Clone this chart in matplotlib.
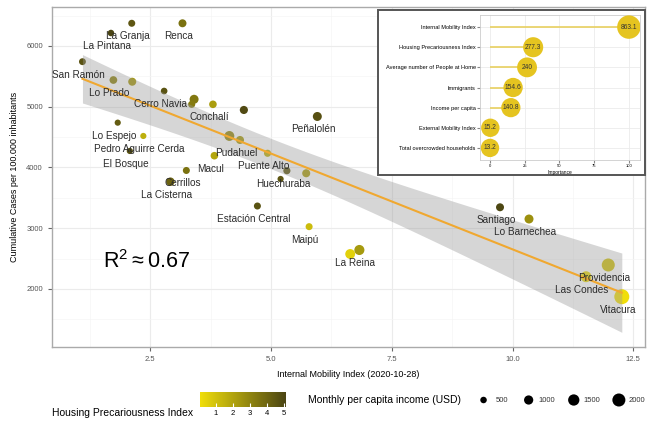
import numpy as np
import matplotlib.pyplot as plt
from matplotlib.colors import LinearSegmentedColormap, Normalize
from matplotlib.patches import Rectangle

plt.rcParams['font.family'] = ['Liberation Sans', 'DejaVu Sans']

# comunas (empty name = point without label)
communes = ["La Granja", "Renca", "La Pintana", "San Ramón", "Lo Prado", "",
            "Cerro Navia", "", "", "Conchalí", "", "Lo Espejo",
            "Pedro Aguirre Cerda", "El Bosque", "", "Pudahuel", "Macul",
            "Puente Alto", "Cerrillos", "Huechuraba", "", "", "Peñalolén",
            "La Cisterna", "Estación Central", "Maipú", "", "La Reina",
            "Santiago", "Lo Barnechea", "Providencia", "Las Condes", "Vitacura"]
mobility = [2.12, 3.17, 1.69, 1.10, 1.74, 2.13, 2.79, 3.41, 3.36, 3.80, 4.44,
            1.83, 2.36, 2.08, 4.14, 4.36, 3.83, 4.93, 3.25, 5.33, 5.20, 5.73,
            5.96, 2.92, 4.72, 5.79, 6.64, 6.83, 9.74, 10.34, 11.98, 11.52, 12.26]
cases = [6374, 6374, 6214, 5742, 5440, 5412, 5259, 5123, 5040, 5040, 4947,
         4738, 4519, 4272, 4519, 4453, 4194, 4234, 3951, 3947, 3811, 3905,
         4840, 3766, 3366, 3026, 2576, 2642, 3345, 3152, 2395, 2202, 1873]
precarious = [4.5, 3.6, 5.1, 4.6, 3.0, 2.4, 4.6, 3.4, 3.3, 2.2, 4.9,
              4.3, 1.6, 4.7, 2.8, 2.3, 1.9, 1.6, 3.6, 4.4, 4.5, 2.2,
              4.7, 4.1, 4.6, 1.2, 0.5, 2.3, 5.0, 2.6, 1.0, 0.3, 0.06]
income = [580, 750, 500, 560, 700, 760, 520, 950, 600, 680, 780,
          450, 450, 450, 1150, 760, 680, 600, 580, 600, 450, 760,
          950, 850, 580, 580, 1150, 1200, 750, 950, 2000, 1400, 2650]

# variable importance (inset)
imp_vars = ["Internal Mobility Index", "Housing Precariousness Index",
            "Average number of People at Home", "Immigrants",
            "Income per capita", "External Mobility Index",
            "Total overcrowded households"]
imp_values = [863.1, 277.3, 240, 154.6, 140.8, 15.2, 13.2]

size_breaks = [500, 1000, 1500, 2000]
hpi_ticks = [1, 2, 3, 4, 5]

size_k = 0.044
cmap = LinearSegmentedColormap.from_list("hpi", ["#F0DE0A", "#4A4413"])

x = np.array(mobility)
y = np.array(cases)
hpi = np.array(precarious)
norm = Normalize(hpi.min(), hpi.max())

fig = plt.figure(figsize=(6.5, 4.21), dpi=100)
ax = fig.add_axes([52/650, 74/421, 593/650, 340/421])

ax.scatter(x, y, s=np.array(income)*size_k, c=hpi, cmap=cmap, norm=norm,
           linewidths=0, zorder=2)

# lm fit + 95% CI
b, a = np.polyfit(x, y, 1)
xs = np.linspace(x.min(), x.max(), 100)
n = len(x)
resid = y - (a + b*x)
s = np.sqrt(np.sum(resid**2)/(n-2))
se = s*np.sqrt(1/n + (xs - x.mean())**2/np.sum((x - x.mean())**2))
fit = a + b*xs
ax.fill_between(xs, fit - 2.04*se, fit + 2.04*se, color="#999999", alpha=0.4,
                linewidth=0, zorder=3)
ax.plot(xs, fit, color="#F0A830", lw=1.5, zorder=4)

for name, xi, yi in zip(communes, mobility, cases):
    if name:
        ax.annotate(name, (xi, yi), xytext=(-4, -13), textcoords="offset pixels",
                    ha="center", va="center", fontsize=7.2, color="#2b2b2b", zorder=5)

ax.text(1.52, 2444, r"$\mathregular{R^2 \approx 0.67}$", fontsize=15.5, va="center")

ax.set_xlim(0.47, 12.74)
ax.set_ylim(1045, 6642)
ax.set_xticks([2.5, 5.0, 7.5, 10.0, 12.5])
ax.set_xticks([1.25, 3.75, 6.25, 8.75, 11.25], minor=True)
ax.set_yticks([2000, 3000, 4000, 5000, 6000])
ax.set_yticks(np.arange(1500, 6600, 1000), minor=True)
ax.grid(which="major", color="#EBEBEB", lw=0.8)
ax.grid(which="minor", color="#F5F5F5", lw=0.5)
ax.set_axisbelow(True)
ax.tick_params(which="major", labelsize=5.5, labelcolor="#555555", color="#666666", length=3)
ax.tick_params(which="minor", length=0)
for sp in ax.spines.values():
    sp.set_color("#AAAAAA")
    sp.set_linewidth(1)
ax.set_xlabel("Internal Mobility Index (2020-10-28)", fontsize=6.5, labelpad=5)
ax.set_ylabel("Cumulative Cases per 100.000 inhabitants", fontsize=6.5, labelpad=5)

# inset box
box = Rectangle((378/650, 246/421), 267/650, 165/421, transform=fig.transFigure,
                facecolor="white", edgecolor="#555555", lw=1.4, zorder=10)
fig.patches.append(box)

ax2 = fig.add_axes([480/650, 261/421, 160/650, 145/421])
ax2.set_zorder(20)
vals = np.array(imp_values)
scaled = (vals - vals.min())/(vals.max() - vals.min())*100
ypos = np.arange(len(imp_vars))[::-1]
ax2.hlines(ypos, 0, scaled, color="#E8D060", lw=1.2, zorder=2)
ax2.scatter(scaled, ypos, s=175 + scaled*1.1, color="#E5C420", linewidths=0, zorder=3)
for v, sx, yp in zip(imp_values, scaled, ypos):
    ax2.text(sx, yp, f"{v:g}", ha="center", va="center", fontsize=4.8, color="#333333", zorder=4)
ax2.set_yticks(ypos)
ax2.set_yticklabels(imp_vars)
ax2.set_xticks([0, 25, 50, 75, 100])
ax2.set_xlim(-7.2, 108)
ax2.set_ylim(-0.6, len(imp_vars) - 0.4)
ax2.tick_params(labelsize=4.1, length=2, color="#888888", pad=1)
ax2.tick_params(axis="x", labelsize=3)
ax2.set_xlabel("Importance", fontsize=3.5, labelpad=1)
ax2.grid(color="#EBEBEB", lw=0.6)
ax2.set_axisbelow(True)
for sp in ax2.spines.values():
    sp.set_color("#CCCCCC")
    sp.set_linewidth(0.6)

# colour legend
fig.text(193/650, 1 - 413/421, "Housing Precariousness Index", ha="right",
         va="center", fontsize=7.5)
cax = fig.add_axes([200/650, 14/421, 86/650, 15/421])
sm = plt.cm.ScalarMappable(norm=norm, cmap=cmap)
cb = fig.colorbar(sm, cax=cax, orientation="horizontal", ticks=hpi_ticks)
cb.outline.set_visible(False)
cax.tick_params(labelsize=5.5, length=3, color="white", direction="in", pad=2)

# size legend
fig.text(308/650, 1 - 400/421, "Monthly per capita income (USD)", ha="left",
         va="center", fontsize=7.5)
sax = fig.add_axes([470/650, 11/421, 180/650, 20/421], frame_on=False)
idx = np.arange(len(size_breaks))
sax.scatter(idx, np.zeros(len(idx)), s=np.array(size_breaks)*size_k, color="black",
            linewidths=0)
for i, br in zip(idx, size_breaks):
    sax.text(i + 0.4, 0, str(br), ha="center", va="center", fontsize=5.5, color="#333333")
sax.set_xlim(-0.3, 3.69)
sax.set_ylim(-1, 1)
sax.set_xticks([])
sax.set_yticks([])
sax.patch.set_visible(False)

fig.savefig("out.png", dpi=100)
